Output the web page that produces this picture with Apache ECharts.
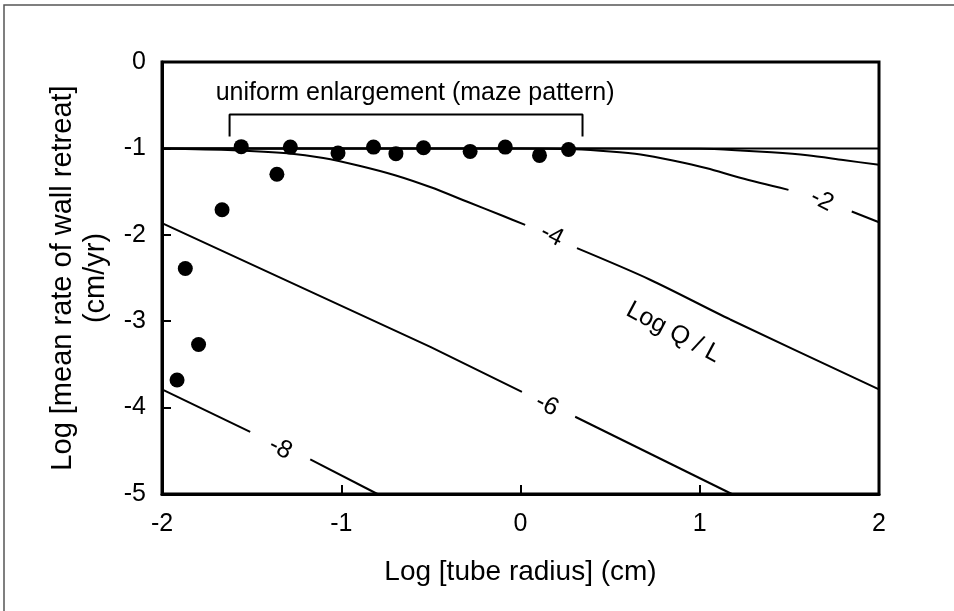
<!DOCTYPE html>
<html><head><meta charset="utf-8">
<script src="https://cdn.jsdelivr.net/npm/echarts/dist/echarts.min.js"></script>
<style>html,body{margin:0;padding:0;background:#fff}#c{width:954px;height:611px}</style>
</head><body><div id="c"></div>
<script>
// ---- data ----
const dotsX = [-1.916,-1.870,-1.796,-1.665,-1.558,-1.359,-1.284,-1.018,-0.820,-0.695,-0.541,-0.281,-0.085,0.106,0.268];
const dotsY = [-3.68,-2.39,-3.27,-1.71,-0.98,-1.30,-0.985,-1.054,-0.985,-1.061,-0.992,-1.035,-0.985,-1.081,-1.012];

const flatX = [-2, 2];
const flatY = [-1, -1];

const curveTopX = [-2, 0, 1.0, 1.2, 1.4, 1.6, 1.8, 2.0];
const curveTopY = [-1, -1, -1.005, -1.02, -1.045, -1.08, -1.135, -1.19];

const curveQ2X = [-2, 0, 0.3, 0.5, 0.67, 0.85, 1.04, 1.225, 1.495, null, 1.848, 2.0];
const curveQ2Y = [-1, -1, -1.01, -1.035, -1.07, -1.14, -1.23, -1.34, -1.48, null, -1.73, -1.855];

const curveQ4X = [-2, -1.6, -1.3, -1.1, -0.9, -0.7, -0.5, -0.3, -0.1, 0.026, null, 0.315, 0.723, 1.17, 2.0];
const curveQ4Y = [-1, -1.02, -1.055, -1.11, -1.2, -1.31, -1.45, -1.615, -1.78, -1.885, null, -2.155, -2.52, -2.98, -3.79];

const curveQ6X = [-2, -0.503, 0.008, null, 0.305, 1.179];
const curveQ6Y = [-1.864, -3.297, -3.817, null, -4.106, -5.0];

const curveQ8X = [-2, -1.508, null, -1.173, -0.798];
const curveQ8Y = [-3.79, -4.28, null, -4.60, -5.0];

const bracketX = [-1.623, -1.623, 0.346, 0.346];
const bracketY = [-0.861, -0.607, -0.607, -0.861];

const curveLabels = ['-2', '-4', '-6', '-8', 'Log Q / L'];
const curveLabelX = [1.681, 0.175, 0.147, -1.340, 0.853];
const curveLabelY = [-1.601, -2.006, -3.971, -4.472, -3.131];
const curveLabelRot = [-27, -27, -27, -27, -28];

const bracketText = 'uniform enlargement (maze pattern)';
const bracketTextX = -0.588, bracketTextY = -0.364;

const xTickLabels = ['-2', '-1', '0', '1', '2'];
const yTickLabels = ['0', '-1', '-2', '-3', '-4', '-5'];

const xTitle = 'Log [tube radius] (cm)';
const yTitle = 'Log [mean rate of wall retreat]\n(cm/yr)';

// ---- build ----
const FONT = "'Liberation Sans', Arial, sans-serif";
const INK = '#000';
function segments(xs, ys) {
  const segs = []; let cur = [];
  xs.forEach((x, i) => {
    if (x === null) { if (cur.length) segs.push(cur); cur = []; }
    else cur.push([x, ys[i]]);
  });
  if (cur.length) segs.push(cur);
  return segs;
}
const lineStyle = { color: INK, width: 2 };
const series = [];
function addCurve(xs, ys, smooth) {
  segments(xs, ys).forEach(seg => series.push({
    type: 'line', data: seg, showSymbol: false, symbol: 'none', smooth: smooth,
    lineStyle: lineStyle, silent: true, z: 2
  }));
}
addCurve(flatX, flatY, false);
addCurve(curveTopX, curveTopY, 0.3);
addCurve(curveQ2X, curveQ2Y, 0.3);
addCurve(curveQ4X, curveQ4Y, 0.3);
addCurve(curveQ6X, curveQ6Y, false);
addCurve(curveQ8X, curveQ8Y, false);
series.push({
  type: 'line', data: bracketX.map((x, i) => [x, bracketY[i]]), symbol: 'none',
  lineStyle: { color: INK, width: 2 }, silent: true
});
series.push({
  type: 'scatter', data: dotsX.map((x, i) => [x, dotsY[i]]), symbol: 'circle', symbolSize: 15,
  itemStyle: { color: INK, opacity: 1 }, z: 5
});
const labelBase = { show: true, position: 'inside', color: INK, fontSize: 25, fontFamily: FONT, opacity: 1, textBorderWidth: 0 };
series.push({
  type: 'scatter', symbolSize: 0, silent: true, z: 6,
  itemStyle: { opacity: 1, color: INK },
  data: curveLabels.map((t, i) => ({
    value: [curveLabelX[i], curveLabelY[i]], name: t,
    label: Object.assign({}, labelBase, { formatter: t, rotate: curveLabelRot[i] })
  })).concat([{
    value: [bracketTextX, bracketTextY], name: bracketText,
    label: Object.assign({}, labelBase, { formatter: bracketText })
  }])
});

const chart = echarts.init(document.getElementById('c'), null, { renderer: 'canvas' });
chart.setOption({
  animation: false,
  backgroundColor: '#fff',
  graphic: [{
    type: 'rect', shape: { x: 4, y: 5, width: 960, height: 620 },
    style: { fill: 'none', stroke: '#555', lineWidth: 1.5 }, silent: true, z: -10
  }],
  grid: { left: 162, right: 75, top: 62, bottom: 117, show: true, borderColor: INK, borderWidth: 3, backgroundColor: 'transparent' },
  xAxis: {
    type: 'value', min: -2, max: 2, interval: 1,
    name: xTitle, nameLocation: 'middle', nameGap: 64,
    nameTextStyle: { fontSize: 28, fontFamily: FONT, color: INK },
    axisLine: { show: true, onZero: false, lineStyle: { color: INK, width: 3 } },
    axisTick: { show: true, inside: true, length: 9, lineStyle: { color: INK, width: 2 } },
    axisLabel: { margin: 18, fontSize: 25, fontFamily: FONT, color: INK,
      formatter: v => xTickLabels[Math.round(v + 2)] },
    splitLine: { show: false }
  },
  yAxis: {
    type: 'value', min: -5, max: 0, interval: 1,
    name: yTitle, nameLocation: 'middle', nameGap: 50,
    nameTextStyle: { fontSize: 29, fontFamily: FONT, color: INK, lineHeight: 33 },
    axisLine: { show: true, onZero: false, lineStyle: { color: INK, width: 3 } },
    axisTick: { show: true, inside: true, length: 9, lineStyle: { color: INK, width: 2 } },
    axisLabel: { margin: 16, fontSize: 25, fontFamily: FONT, color: INK,
      formatter: v => yTickLabels[Math.round(-v)] },
    splitLine: { show: false }
  },
  series: series
});
</script></body></html>
